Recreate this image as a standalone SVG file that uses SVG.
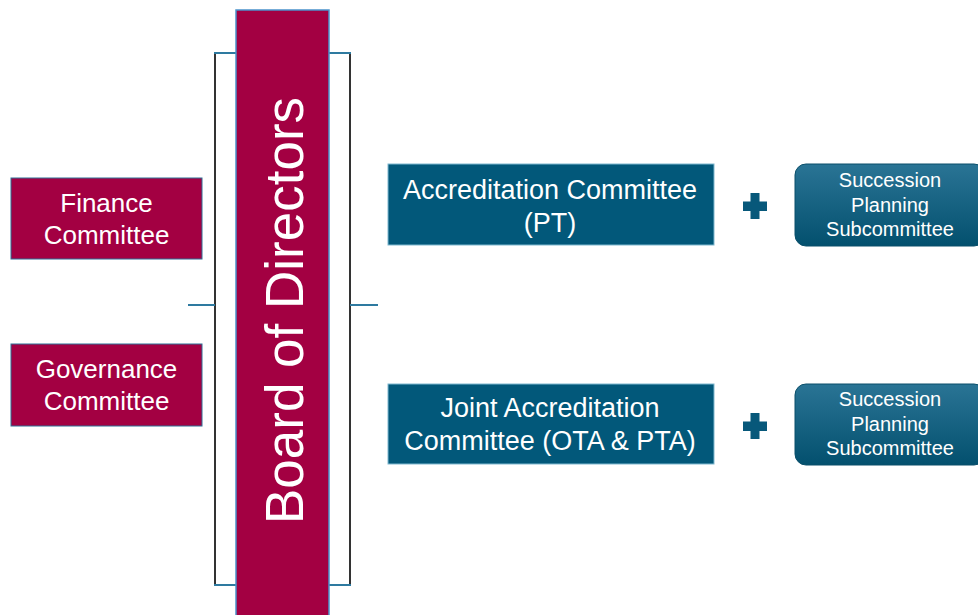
<svg xmlns="http://www.w3.org/2000/svg" width="978" height="615" viewBox="0 0 978 615">
<defs>
<linearGradient id="sg" x1="0" y1="0" x2="0" y2="1">
<stop offset="0" stop-color="#2a7495"/>
<stop offset="1" stop-color="#03506e"/>
</linearGradient>
<style>
text{font-family:"Liberation Sans",Arial,sans-serif;fill:#fff;text-anchor:middle}
.red{fill:#a30042;stroke:#2f6e96;stroke-width:1}
.teal{fill:#02587a;stroke:#7fb8cf;stroke-width:1}
.sub{fill:url(#sg);stroke:#0b4f6a;stroke-width:1}
.t26{font-size:26px}
.t27{font-size:27px}
.t20{font-size:20px}
.br{stroke:#333;stroke-width:2;fill:none}
.bl{stroke:#2e7aa0;stroke-width:2;fill:none}
.plus{fill:#07587a}
</style>
</defs>
<rect width="978" height="615" fill="#fff"/>
<g id="connectors">
<line class="br" x1="215" y1="53" x2="215" y2="585"/>
<line class="br" x1="350" y1="53" x2="350" y2="585"/>
<line class="bl" x1="214" y1="53" x2="237" y2="53"/>
<line class="bl" x1="328" y1="53" x2="351" y2="53"/>
<line class="bl" x1="214" y1="585" x2="237" y2="585"/>
<line class="bl" x1="328" y1="585" x2="351" y2="585"/>
<line class="bl" x1="188" y1="305" x2="215" y2="305"/>
<line class="bl" x1="350" y1="305" x2="378" y2="305"/>
</g>
<g id="board">
<rect x="236" y="10" width="93" height="615" fill="#a30042" stroke="#4b93cc" stroke-width="1.5"/>
<text transform="translate(303,310.5) rotate(-90)" font-size="53">Board of Directors</text>
</g>
<g id="finance">
<rect class="red" x="11" y="178" width="191" height="81"/>
<text class="t26" x="106.5" y="211.5">Finance</text>
<text class="t26" x="106.5" y="243.5">Committee</text>
</g>
<g id="governance">
<rect class="red" x="11" y="344" width="191" height="82"/>
<text class="t26" x="106.5" y="377.5">Governance</text>
<text class="t26" x="106.5" y="409.5">Committee</text>
</g>
<g id="accreditation">
<rect class="teal" x="388" y="164" width="326" height="81"/>
<text class="t27" x="550" y="198.5">Accreditation Committee</text>
<text class="t27" x="550" y="231.5">(PT)</text>
</g>
<g id="plus1">
<path class="plus" d="M750.5,193h9v8.5h7.5v9.5h-7.5v8h-9v-8h-7.5v-9.5h7.5z"/>
</g>
<g id="succession1">
<rect class="sub" x="795" y="164" width="190" height="82" rx="11"/>
<text class="t20" x="890" y="187">Succession</text>
<text class="t20" x="890" y="211.5">Planning</text>
<text class="t20" x="890" y="236">Subcommittee</text>
</g>
<g id="joint">
<rect class="teal" x="388" y="384" width="326" height="80"/>
<text class="t27" x="550" y="417">Joint Accreditation</text>
<text class="t27" x="550" y="450">Committee (OTA &amp; PTA)</text>
</g>
<g id="plus2">
<path class="plus" d="M750.5,413h9v8.5h7.5v9.5h-7.5v8h-9v-8h-7.5v-9.5h7.5z"/>
</g>
<g id="succession2">
<rect class="sub" x="795" y="384" width="190" height="81" rx="11"/>
<text class="t20" x="890" y="406">Succession</text>
<text class="t20" x="890" y="430.5">Planning</text>
<text class="t20" x="890" y="455">Subcommittee</text>
</g>
</svg>
